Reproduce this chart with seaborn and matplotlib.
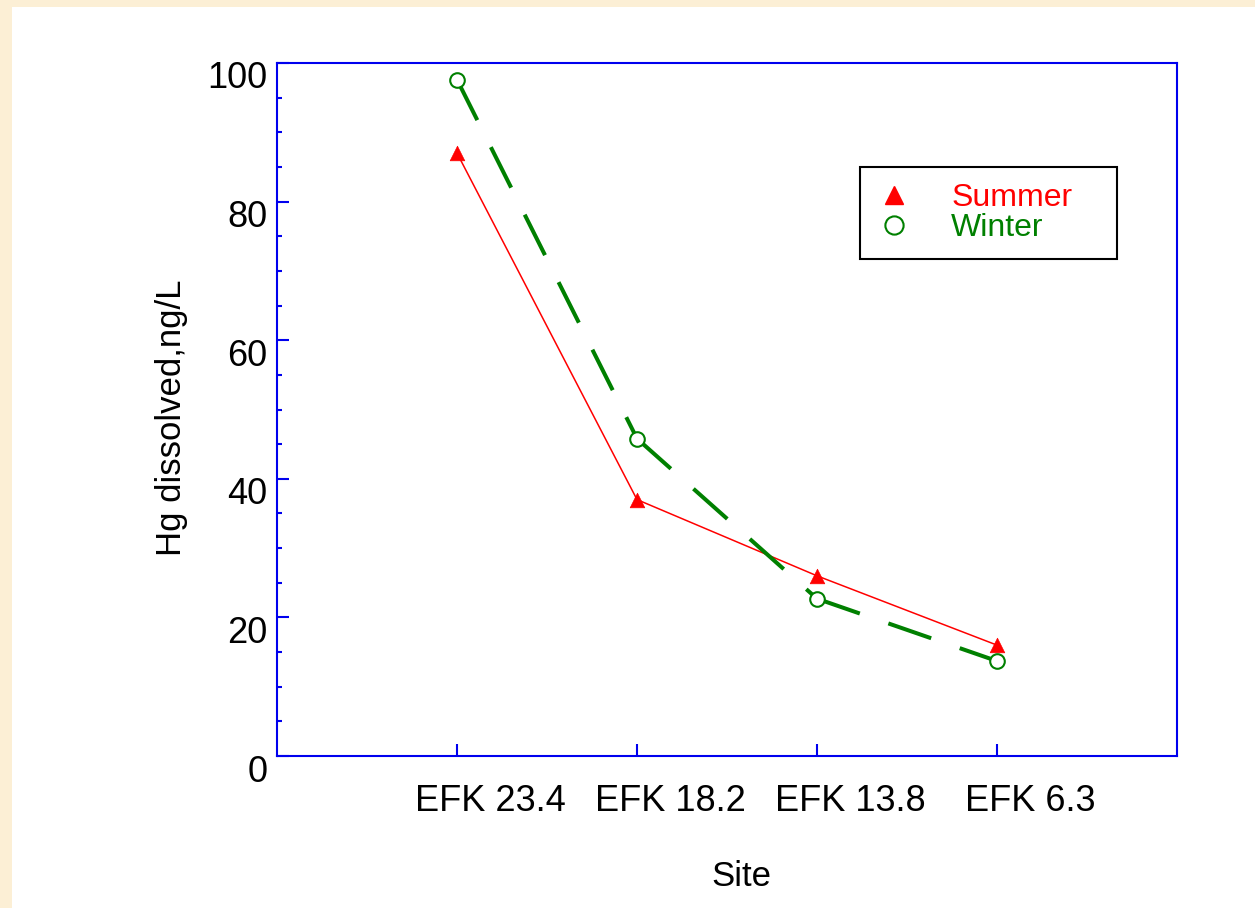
import numpy as np
import pandas as pd
import matplotlib
matplotlib.use("Agg")
import matplotlib.pyplot as plt
from matplotlib.lines import Line2D
from matplotlib.patches import Rectangle
from matplotlib.ticker import MultipleLocator
from matplotlib.transforms import ScaledTranslation
import seaborn as sns

# Dissolved mercury at East Fork Poplar Creek sites
sites = ["EFK 23.4", "EFK 18.2", "EFK 13.8", "EFK 6.3"]
summer = [87.0, 37.0, 26.0, 16.0]
winter = [97.6, 45.8, 22.7, 13.7]
series_names = ["Summer", "Winter"]
y_ticks = [0, 20, 40, 60, 80, 100]

RED = "#FF0000"
GREEN = "#008000"
BLUE = "#0000EE"
PAPER = "#FCEFD5"

sns.set_theme(style="white")
plt.rcParams["font.family"] = ["Liberation Sans", "DejaVu Sans"]

W, H = 1255, 908
fig = plt.figure(figsize=(W / 100, H / 100), dpi=100)
fig.patch.set_facecolor(PAPER)
fig.patches.append(Rectangle((12 / W, 0), 1, 1 - 7 / H, transform=fig.transFigure,
                             facecolor="white", edgecolor="none", zorder=-10))

ax = fig.add_axes([277 / W, 1 - 756 / H, 900 / W, 693 / H])
ax.set_facecolor("white")

positions = np.arange(1, len(sites) + 1)
df = pd.DataFrame({"pos": positions, "Summer": summer, "Winter": winter})

# Summer: thin solid red line
sns.lineplot(data=df, x="pos", y="Summer", color=RED, linewidth=1.1,
             ax=ax, zorder=2, legend=False)

# Winter: heavy dashed green line, dash pattern restarting at each site
for i in range(len(df) - 1):
    sns.lineplot(data=df.iloc[i:i + 2], x="pos", y="Winter", color=GREEN,
                 linewidth=2.9, linestyle=(0, (11.25, 7.5)),
                 ax=ax, zorder=3, legend=False)

sns.scatterplot(data=df, x="pos", y="Summer", marker="^", s=10.5 ** 2,
                color=RED, edgecolor=RED, linewidth=0.5, ax=ax, zorder=4,
                legend=False)
sns.scatterplot(data=df, x="pos", y="Winter", marker="o", s=10.5 ** 2,
                color="white", edgecolor=GREEN, linewidth=1.5, ax=ax, zorder=5,
                legend=False)

ax.set_xlim(0, len(sites) + 1)
ax.set_ylim(0, 100)
ax.set_xticks(positions, sites)
ax.set_yticks(y_ticks)
ax.yaxis.set_minor_locator(MultipleLocator(5))

ax.tick_params(axis="y", which="major", direction="in", length=8.6, width=1.5,
               color=BLUE, pad=7, labelsize=26, labelcolor="black", left=True)
ax.tick_params(axis="y", which="minor", direction="in", length=3.6, width=1.5,
               color=BLUE, left=True)
ax.tick_params(axis="x", which="major", direction="in", length=9, width=1.5,
               color=BLUE, pad=20, labelsize=26, labelcolor="black", bottom=True)

for s in ax.spines.values():
    s.set_color(BLUE)
    s.set_linewidth(1.5)
    s.set_visible(True)

ax.set_xlabel("Site", fontsize=25, color="black")
ax.set_ylabel("Hg dissolved,ng/L", fontsize=25, color="black")
ax.xaxis.set_label_coords(0.516, -0.150)
ax.yaxis.set_label_coords(-0.099, 0.488)

# tick label placement: site names shifted right, values dropped below the ticks
for lab in ax.get_xticklabels():
    lab.set_transform(lab.get_transform() + ScaledTranslation(0.33, 0, fig.dpi_scale_trans))
for lab in ax.get_yticklabels():
    lab.set_transform(lab.get_transform() + ScaledTranslation(0, -0.12, fig.dpi_scale_trans))

handles = [
    Line2D([], [], linestyle="none", marker="^", markersize=10.5,
           color=RED, markeredgecolor=RED),
    Line2D([], [], linestyle="none", marker="o", markersize=10.5,
           markerfacecolor="white", markeredgecolor=GREEN, markeredgewidth=1.5),
]
leg = ax.legend(handles, series_names, loc="upper left",
                bbox_to_anchor=(860 / W, 1 - 259 / H, 257 / W, 92 / H),
                bbox_transform=fig.transFigure, mode="expand",
                borderaxespad=0, borderpad=0.5, handlelength=1.1,
                handletextpad=1.25, labelspacing=0.0, markerscale=1.25,
                fontsize=23, labelcolor=[RED, GREEN], frameon=True,
                fancybox=False, shadow=False, framealpha=1)
leg.get_frame().set_edgecolor("black")
leg.get_frame().set_linewidth(1.5)

fig.savefig("out.png", dpi=100)
